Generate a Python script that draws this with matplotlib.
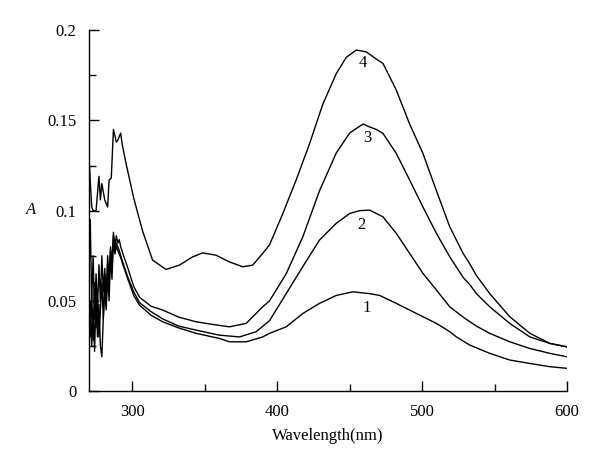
import numpy as np
import matplotlib
matplotlib.use("Agg")
import matplotlib.pyplot as plt

plt.rcParams["font.family"] = ["Liberation Serif", "DejaVu Serif"]

# curve 4 (top)
wl_4 = [270, 272, 273, 275, 277, 278, 279, 281, 283, 284, 285.5, 287, 289, 290, 292, 293,
        296, 301, 307, 314, 323.3, 332.5, 341.7, 348.6, 357.8, 367, 376.2, 383.1, 390,
        394.7, 403.9, 413.1, 422.3, 431.5, 440.8, 447.7, 454.6, 461.5, 468.4, 473, 482.2,
        491.4, 500.6, 509.9, 519.1, 528.3, 532.9, 537.5, 546.7, 560.5, 574.4, 588.2, 600]
abs_4 = [0.131, 0.102, 0.100, 0.100, 0.119, 0.106, 0.115, 0.106, 0.102, 0.117, 0.118, 0.145,
         0.138, 0.139, 0.143, 0.137, 0.125, 0.107, 0.089, 0.0726, 0.0674, 0.0698, 0.0744,
         0.0766, 0.0753, 0.0716, 0.0689, 0.0698, 0.0763, 0.081, 0.0984, 0.117, 0.137, 0.159,
         0.176, 0.185, 0.189, 0.188, 0.184, 0.1816, 0.1668, 0.148, 0.1317, 0.111, 0.091,
         0.0763, 0.0705, 0.064, 0.054, 0.0412, 0.032, 0.0264, 0.0245]

# curve 3
wl_3 = [270, 271, 272, 273, 274, 275, 276, 277, 278, 279, 280, 281, 282, 283, 284, 285,
        286, 287, 288, 289, 290, 291, 292, 294, 297, 301, 305, 313, 321, 332, 344, 355,
        367, 378.6, 390, 394.7, 406.2, 417.7, 429.2, 440.8, 450, 459.2, 463.8, 468.4, 473,
        482.2, 491.4, 500.6, 509.9, 519.1, 528.3, 532.9, 537.5, 546.7, 560.5, 574.4, 588.2,
        600]
abs_3 = [0.060, 0.095, 0.050, 0.075, 0.040, 0.065, 0.045, 0.070, 0.050, 0.075, 0.055, 0.068,
         0.052, 0.075, 0.062, 0.080, 0.070, 0.088, 0.080, 0.086, 0.082, 0.084, 0.080, 0.075,
         0.068, 0.058, 0.052, 0.047, 0.0449, 0.041, 0.0384, 0.037, 0.0356, 0.0375, 0.0467,
         0.050, 0.065, 0.0855, 0.111, 0.132, 0.143, 0.148, 0.1464, 0.145, 0.1428, 0.1317,
         0.117, 0.102, 0.0874, 0.0744, 0.063, 0.059, 0.054, 0.0467, 0.0375, 0.030, 0.0264,
         0.0245]

# curve 2
wl_2 = [270, 271, 272, 273, 274, 275, 276, 277, 278, 279, 280, 281, 282, 283, 284, 285,
        286, 287, 288, 289, 290, 291, 292, 294, 297, 301, 305, 313, 321, 332, 344, 360,
        374, 385.5, 394.7, 406.2, 417.7, 429.2, 440.8, 450, 456.9, 463.8, 468.4, 473,
        482.2, 491.4, 500.6, 509.9, 519.1, 528.3, 537.5, 546.7, 560.5, 574.4, 588.2, 600]
abs_2 = [0.040, 0.030, 0.055, 0.028, 0.060, 0.035, 0.052, 0.030, 0.045, 0.060, 0.040, 0.065,
         0.048, 0.070, 0.058, 0.078, 0.068, 0.086, 0.078, 0.082, 0.080, 0.078, 0.075, 0.070,
         0.063, 0.055, 0.049, 0.044, 0.040, 0.036, 0.0338, 0.031, 0.030, 0.0329, 0.039,
         0.054, 0.069, 0.0837, 0.093, 0.0984, 0.100, 0.1003, 0.0984, 0.0966, 0.0874, 0.0763,
         0.0652, 0.056, 0.0467, 0.041, 0.036, 0.032, 0.0273, 0.0236, 0.0209, 0.019]

# curve 1 (bottom)
wl_1 = [270, 271, 272, 273, 274, 275, 276, 277, 278, 279, 280, 281, 282, 283, 284, 285,
        286, 287, 288, 289, 290, 291, 292, 294, 297, 301, 305, 313, 321, 332, 344, 360,
        367, 378.6, 390, 394.7, 406.2, 417.7, 429.2, 440.8, 452.2, 463.8, 470.7, 482.2,
        491.4, 500.6, 509.9, 519.1, 523.7, 532.9, 546.7, 560.5, 574.4, 588.2, 600]
abs_1 = [0.030, 0.050, 0.025, 0.045, 0.022, 0.055, 0.030, 0.048, 0.025, 0.019, 0.040, 0.055,
         0.045, 0.065, 0.050, 0.075, 0.062, 0.084, 0.076, 0.080, 0.078, 0.076, 0.074, 0.069,
         0.062, 0.053, 0.0476, 0.042, 0.0384, 0.035, 0.032, 0.0292, 0.0273, 0.0273, 0.030,
         0.032, 0.0356, 0.043, 0.0486, 0.053, 0.055, 0.054, 0.053, 0.0486, 0.0449, 0.0412,
         0.0375, 0.0329, 0.030, 0.0255, 0.0209, 0.0172, 0.0153, 0.0135, 0.0126]

curve_labels = ["1", "2", "3", "4"]
label_x = [462, 458, 462, 459]
label_y = [0.046, 0.092, 0.140, 0.182]

fig = plt.figure(figsize=(6, 4.65), dpi=100)
ax = fig.add_axes([0.148, 0.159, 0.797, 0.776])

for wl, a in [(wl_1, abs_1), (wl_2, abs_2), (wl_3, abs_3), (wl_4, abs_4)]:
    ax.plot(wl, a, color="black", lw=1.0)

for t, x, y in zip(curve_labels, label_x, label_y):
    ax.text(x, y, t, fontsize=12, ha="center", va="center")

ax.set_xlim(270, 600)
ax.set_ylim(0, 0.2)
ax.set_xticks([300, 400, 500, 600])
ax.set_xticks([350, 450, 550], minor=True)
ax.set_yticks([0, 0.05, 0.1, 0.15, 0.2])
ax.set_yticklabels(["0", "0.05", "0.1", "0.15", "0.2"])
ax.set_yticks([0.025, 0.075, 0.125, 0.175], minor=True)

for s in ["top", "right"]:
    ax.spines[s].set_visible(False)
for s in ["left", "bottom"]:
    ax.spines[s].set_linewidth(1.0)

ax.tick_params(which="both", direction="in", width=1.0, labelsize=12)
ax.tick_params(which="major", length=7, pad=9)
ax.tick_params(which="minor", length=5)

ax.set_xlabel("Wavelength(nm)", fontsize=12, labelpad=6)
fig.text(0.052, 0.548, "A", fontsize=12, style="italic", ha="center", va="center")

fig.savefig("out.png", dpi=100)
